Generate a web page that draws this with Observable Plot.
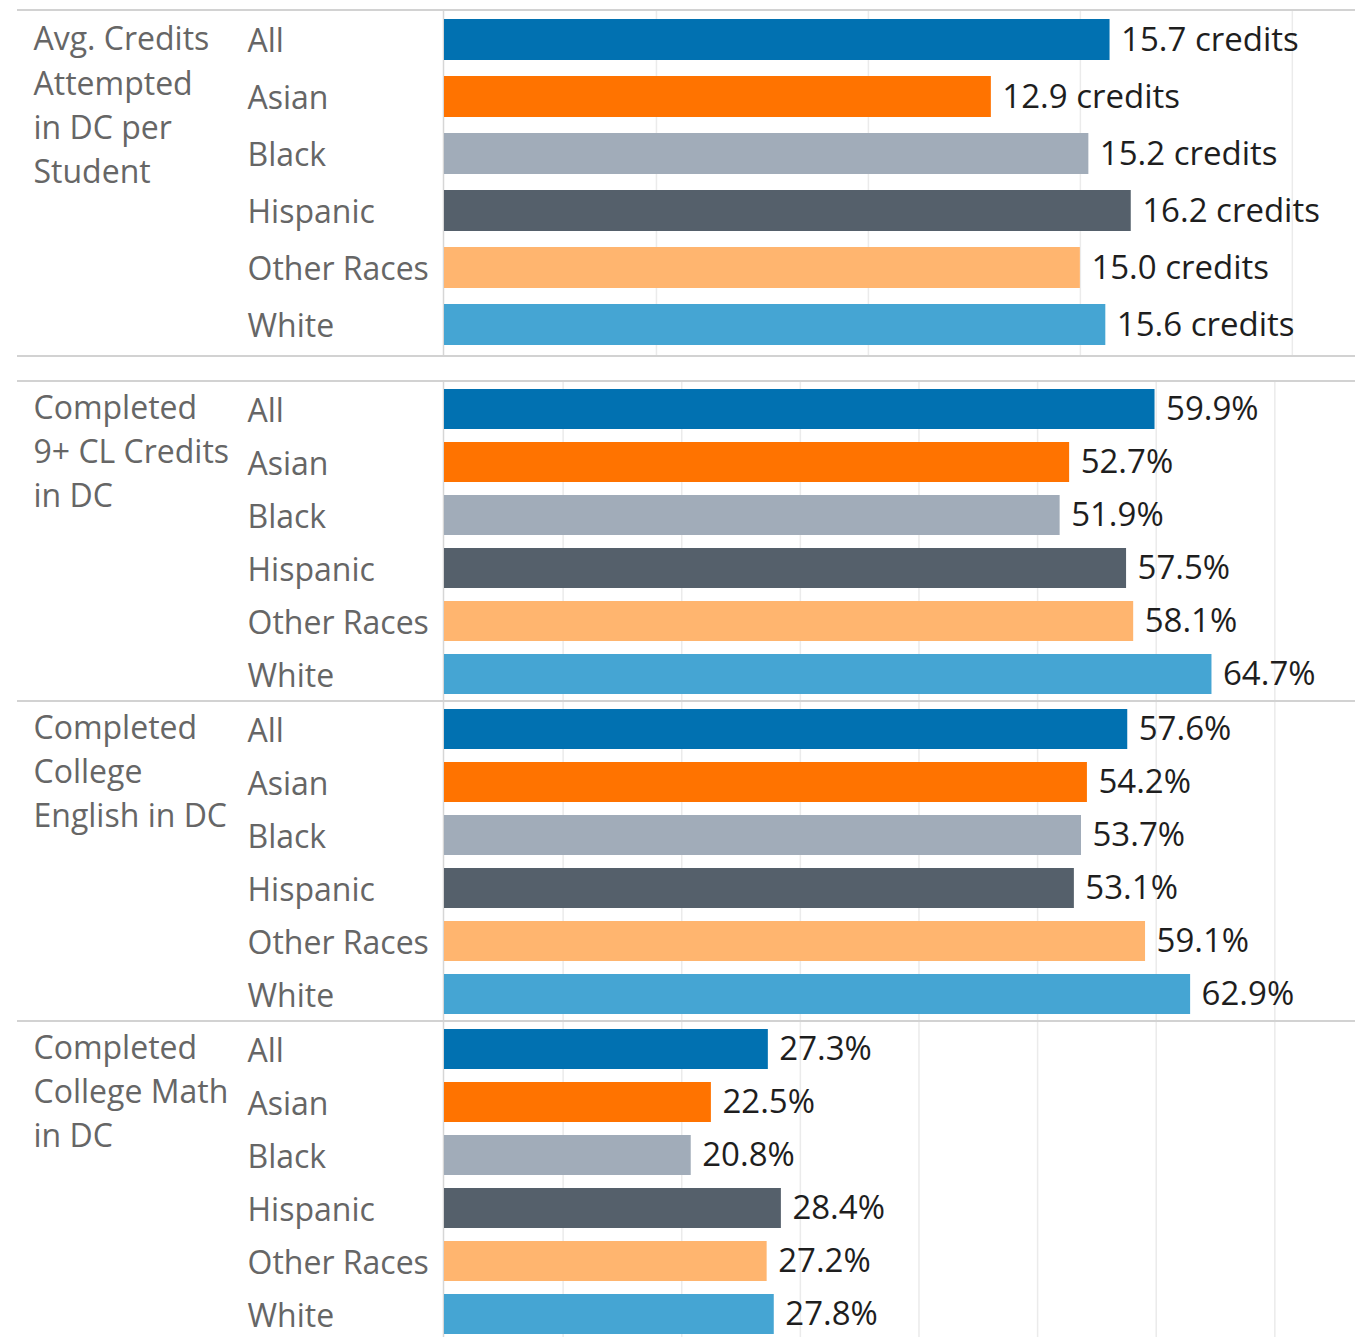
<!DOCTYPE html>
<html>
<head>
<meta charset="utf-8">
<script src="https://cdn.jsdelivr.net/npm/d3@7"></script>
<script src="https://cdn.jsdelivr.net/npm/@observablehq/plot@0.6"></script>
<style>
  html, body { margin: 0; padding: 0; background: #fff; }
  #root { position: relative; width: 1355px; height: 1337px; overflow: hidden; background: #fff; }
  .panel { position: absolute; left: 0; }
  .hline { position: absolute; left: 17px; width: 1338px; height: 2px; background: #d2d2d2; }
</style>
</head>
<body>
<div id="root"></div>
<script>
// ---- data ----
const races = ["All", "Asian", "Black", "Hispanic", "Other Races", "White"];
const raceColors = ["#0171b1", "#ff7300", "#a1acb9", "#55606b", "#ffb56f", "#45a5d3"];
const headers = [
  "Avg. Credits\nAttempted\nin DC per\nStudent",
  "Completed\n9+ CL Credits\nin DC",
  "Completed\nCollege\nEnglish in DC",
  "Completed\nCollege Math\nin DC"
];
const creditsAttempted = [15.7, 12.9, 15.2, 16.2, 15.0, 15.6];
const completed9CL = [59.9, 52.7, 51.9, 57.5, 58.1, 64.7];
const completedEnglish = [57.6, 54.2, 53.7, 53.1, 59.1, 62.9];
const completedMath = [27.3, 22.5, 20.8, 28.4, 27.2, 27.8];
const creditTicks = [5, 10, 15, 20];
const percentTicks = [10, 20, 30, 40, 50, 60, 70];

// ---- layout ----
const W = 1355, ML = 444;
const panels = [
  {values: creditsAttempted, header: headers[0], unit: " credits", max: 21.49, ticks: creditTicks, top: 11, height: 344, mt: 6, mb: 7, pi: 0.273, hdy: -21},
  {values: completed9CL, header: headers[1], unit: "%", max: 76.8, ticks: percentTicks, top: 382, height: 318, mt: 6, mb: 5, pi: 0.251, hdy: -22},
  {values: completedEnglish, header: headers[2], unit: "%", max: 76.8, ticks: percentTicks, top: 702, height: 318, mt: 6, mb: 5, pi: 0.251, hdy: -22},
  {values: completedMath, header: headers[3], unit: "%", max: 76.8, ticks: percentTicks, top: 1022, height: 315, mt: 6, mb: 2, pi: 0.251, hdy: -22}
];
const lineTops = [9, 355, 380, 700, 1020];

const FONT = "'Open Sans', 'Noto Sans', sans-serif";

function panel(cfg) {
  const data = races.map((r, i) => ({race: r, value: cfg.values[i]}));
  return Plot.plot({
    width: W,
    height: cfg.height,
    marginLeft: ML,
    marginRight: 0,
    marginTop: cfg.mt,
    marginBottom: cfg.mb,
    style: {fontFamily: FONT, fontSize: "32px", color: "#666", background: "transparent", overflow: "visible"},
    x: {domain: [0, cfg.max], axis: null},
    y: {domain: races, paddingInner: cfg.pi, paddingOuter: 0},
    color: {domain: races, range: raceColors},
    marks: [
      Plot.gridX(cfg.ticks, {stroke: "#ebebeb", strokeOpacity: 1, strokeWidth: 1.5, insetTop: -cfg.mt, insetBottom: -cfg.mb}),
      Plot.ruleX([0], {stroke: "#d6d6d6", strokeWidth: 1.5, dx: -1, insetTop: -cfg.mt, insetBottom: -cfg.mb}),
      Plot.barX(data, {x: "value", y: "race", fill: "race"}),
      Plot.text(data, {
        x: "value", y: "race",
        text: d => d.value.toFixed(1) + cfg.unit,
        textAnchor: "start", dx: 11, dy: 0,
        fontSize: 33, fill: "#1e1e1e"
      }),
      Plot.axisY({tickSize: 0, tickPadding: 0, textAnchor: "start", dx: 247 - ML, dy: 2, fontSize: 32, fill: "#666", label: null}),
      Plot.text([cfg.header], {
        y: () => races[0],
        frameAnchor: "left",
        text: d => d,
        textAnchor: "start", lineAnchor: "top",
        dx: 33 - ML, dy: cfg.hdy,
        lineHeight: 1.38,
        fontSize: 32, fill: "#666"
      })
    ]
  });
}

const root = document.getElementById("root");
for (const cfg of panels) {
  const div = document.createElement("div");
  div.className = "panel";
  div.style.top = cfg.top + "px";
  div.appendChild(panel(cfg));
  root.appendChild(div);
}
for (const t of lineTops) {
  const l = document.createElement("div");
  l.className = "hline";
  l.style.top = t + "px";
  root.appendChild(l);
}
</script>
</body>
</html>
